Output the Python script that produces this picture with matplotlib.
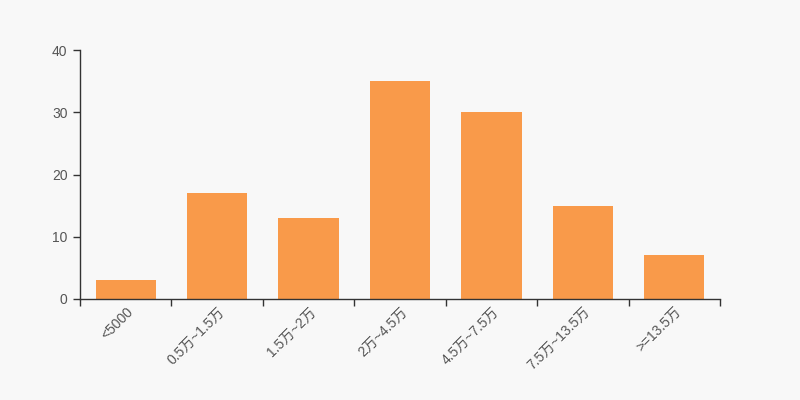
import matplotlib
matplotlib.use("Agg")
import matplotlib.pyplot as plt

categories = ["<5000", "0.5万~1.5万", "1.5万~2万", "2万~4.5万", "4.5万~7.5万", "7.5万~13.5万", ">=13.5万"]
values = [3, 17, 13, 35, 30, 15, 7]
yticks = [0, 10, 20, 30, 40]

plt.rcParams['font.family'] = ['Liberation Sans', 'Noto Sans CJK SC', 'DejaVu Sans']

fig = plt.figure(figsize=(8, 4), dpi=100, facecolor='#f8f8f8')
ax = fig.add_axes([0.1, 0.2525, 0.8, 0.6225])
ax.set_facecolor('#f8f8f8')

x = list(range(len(categories)))
ax.bar(x, values, width=0.66, color='#f99a4a', zorder=2)

ax.set_xlim(-0.5, len(categories) - 0.5)
ax.set_ylim(0, 40)
ax.set_yticks(yticks)
ax.set_yticklabels([str(v) for v in yticks], fontsize=10, color='#555555')

ax.set_xticks(x)
ax.set_xticklabels(categories, rotation=45, ha='right', rotation_mode='anchor', fontsize=10, color='#555555')
ax.tick_params(axis='x', length=0, pad=4)
ax.set_xticks([i - 0.5 for i in range(len(categories) + 1)], minor=True)
ax.tick_params(axis='x', which='minor', length=5, color='#333333', width=1)
ax.tick_params(axis='y', length=5, color='#333333', width=1, pad=4)

for s in ['top', 'right']:
    ax.spines[s].set_visible(False)
for s in ['left', 'bottom']:
    ax.spines[s].set_color('#333333')
    ax.spines[s].set_linewidth(1)

fig.savefig('out.png', dpi=100, facecolor='#f8f8f8')
